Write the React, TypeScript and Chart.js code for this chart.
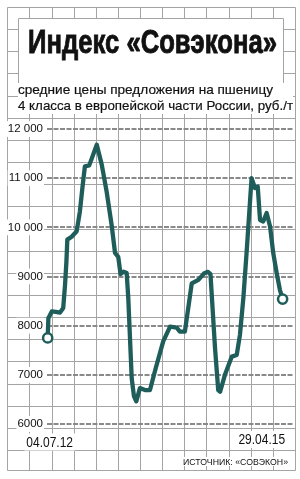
import React, { useEffect, useLayoutEffect, useRef } from 'react';
import { Chart, registerables } from 'chart.js';

Chart.register(...registerables);

// Days since 04.07.2012 for each traced point
const days = [
  0, 3, 18, 36, 54, 68, 76, 82, 86, 105,
  127, 141, 152, 163, 182, 215, 237, 258, 280, 295,
  309, 319, 332, 346, 353, 368, 378, 388, 404, 426,
  448, 474, 506, 536, 565, 579, 601, 631, 660, 684,
  702, 713, 733, 747, 755, 776, 806, 828, 842, 857,
  871, 893, 908, 920, 930, 944, 959, 974, 988, 1003,
  1017, 1029,
];

// Price, rub./t
const prices = [
  7750, 8150, 8290, 8280, 8265, 8360, 8830, 9300, 9750, 9810,
  9920, 10320, 10800, 11240, 11260, 11680, 11270, 10730, 10050, 9480,
  9400, 9050, 9100, 9070, 8560, 6930, 6560, 6460, 6730, 6690,
  6690, 7150, 7680, 7980, 7960, 7880, 7880, 8860, 8930, 9060,
  9095, 9050, 7540, 6690, 6655, 6995, 7370, 7405, 7810, 8560,
  9475, 11000, 10800, 10830, 10150, 10120, 10290, 10015, 9475, 9070,
  8730, 8540,
];

const yTickValues = [6000, 7000, 8000, 9000, 10000, 11000, 12000];
const yTickLabels = ['6000', '7000', '8000', '9000', '10 000', '11 000', '12 000'];
const xTickDays = [0, 1029];
const xTickLabels = ['04.07.12', '29.04.15'];

const TITLE = 'Индекс «Совэкона»';
const SUBTITLE_1 = 'средние цены предложения на пшеницу';
const SUBTITLE_2 = '4 класса в европейской части России, руб./т';
const SOURCE = 'ИСТОЧНИК: «СОВЭКОН»';

const SANS = "'Liberation Sans', Arial, sans-serif";
const LINE = '#1f5d5a';
const PAPER = '#a4a4a4';

const W = 300;
const H = 479;

type FitProps = {
  text: string;
  left: number;
  baseline: number;
  width: number;
  size: number;
  weight?: number | string;
  bg?: string;
  stroke?: number;
};

function FitText({ text, left, baseline, width, size, weight = 400, bg, stroke = 0 }: FitProps) {
  const ref = useRef<HTMLSpanElement>(null);
  useLayoutEffect(() => {
    const el = ref.current;
    if (!el) return;
    el.style.transform = 'none';
    const w = el.getBoundingClientRect().width;
    if (w > 0) el.style.transform = `scaleX(${width / w})`;
  }, [text, width, size]);
  return (
    <span
      ref={ref}
      style={{
        position: 'absolute',
        left,
        top: baseline - size * 0.8465,
        fontSize: size,
        lineHeight: `${size}px`,
        fontFamily: SANS,
        fontWeight: weight as any,
        color: '#111',
        whiteSpace: 'nowrap',
        transformOrigin: '0 0',
        background: bg,
        WebkitTextStroke: stroke ? `${stroke}px #111` : undefined,
      }}
    >
      {text}
    </span>
  );
}

const backgroundPlugin = {
  id: 'paper',
  beforeDraw(chart: any) {
    const ctx = chart.ctx as CanvasRenderingContext2D;
    ctx.save();
    ctx.fillStyle = '#fff';
    ctx.fillRect(0, 0, W, H);
    ctx.strokeStyle = PAPER;
    ctx.lineWidth = 1;
    const x0 = 7.3, y0 = 7, sx = 22.13, sy = 22.15, bottom = 470.5;
    const right = Math.round(x0 + 13 * sx) + 0.5;
    ctx.beginPath();
    for (let k = 0; k <= 13; k++) {
      const x = Math.round(x0 + k * sx) + 0.5;
      ctx.moveTo(x, Math.round(y0) + 0.5);
      ctx.lineTo(x, bottom);
    }
    for (let k = 0; k <= 20; k++) {
      const y = Math.round(y0 + k * sy) + 0.5;
      ctx.moveTo(Math.round(x0) + 0.5, y);
      ctx.lineTo(right, y);
    }
    ctx.moveTo(Math.round(x0) + 0.5, bottom);
    ctx.lineTo(right, bottom);
    ctx.stroke();

    // title box
    ctx.fillStyle = '#fff';
    ctx.fillRect(18, 18, 266, 66);
    ctx.beginPath();
    ctx.moveTo(18.5, 83);
    ctx.lineTo(18.5, 18.5);
    ctx.lineTo(283.5, 18.5);
    ctx.lineTo(283.5, 83);
    ctx.stroke();
    // subtitle background
    ctx.fillRect(18, 83, 275, 31);
    ctx.restore();
  },
};

const xLabelPlugin = {
  id: 'xlabels',
  afterDraw(chart: any) {
    const ctx = chart.ctx as CanvasRenderingContext2D;
    const xs = chart.scales.x;
    const squeeze = 0.8;
    ctx.save();
    ctx.font = `15px ${SANS}`;
    ctx.textBaseline = 'alphabetic';
    ctx.textAlign = 'left';
    xTickDays.forEach((d, i) => {
      const px = xs.getPixelForValue(d);
      const label = xTickLabels[i];
      const w = ctx.measureText(label).width * squeeze;
      const first = i === 0;
      const base = first ? 446.5 : 444;
      const left = first ? px + 2 - w / 2 : px + 2.5 - w;
      ctx.fillStyle = '#fff';
      ctx.fillRect(left - 2, base - 13, w + 4, 17);
      ctx.fillStyle = '#111';
      ctx.save();
      ctx.translate(left, base);
      ctx.scale(squeeze, 1);
      ctx.fillText(label, 0, 0);
      ctx.restore();
    });
    ctx.restore();
  },
};

export default function App() {
  const canvasRef = useRef<HTMLCanvasElement>(null);

  useEffect(() => {
    const canvas = canvasRef.current;
    if (!canvas) return;
    const last = days.length - 1;
    const chart = new Chart(canvas, {
      type: 'line',
      data: {
        datasets: [
          {
            data: days.map((d, i) => ({ x: d, y: prices[i] })),
            borderColor: LINE,
            borderWidth: 4.3,
            borderJoinStyle: 'round',
            borderCapStyle: 'round',
            tension: 0,
            pointRadius: (c: any) => (c.dataIndex === 0 || c.dataIndex === last ? 4.6 : 0),
            pointHoverRadius: 0,
            pointBackgroundColor: '#fff',
            pointBorderColor: LINE,
            pointBorderWidth: 2.5,
            clip: false as any,
          } as any,
        ],
      },
      options: {
        responsive: false,
        animation: false,
        events: [],
        layout: { padding: { left: 0, right: 7, top: 129, bottom: 55 } },
        plugins: {
          legend: { display: false },
          tooltip: { enabled: false },
        },
        scales: {
          x: {
            type: 'linear',
            min: -3,
            max: 1074,
            display: false,
          },
          y: {
            type: 'linear',
            min: 6000,
            max: 12000,
            afterBuildTicks: (s: any) => {
              s.ticks = yTickValues.map((v) => ({ value: v }));
            },
            afterFit: (s: any) => {
              s.width = 47;
            },
            ticks: {
              callback: (v: any) => yTickLabels[yTickValues.indexOf(Number(v))],
              font: { family: SANS, size: 11.5 },
              color: '#111',
              padding: 4,
              showLabelBackdrop: true,
              backdropColor: '#fff',
              backdropPadding: 1,
            } as any,
            grid: { color: '#8a8a8a', lineWidth: 2, drawTicks: false },
            border: { display: false, dash: [5, 1.5] },
          },
        },
      },
      plugins: [backgroundPlugin, xLabelPlugin],
    });
    return () => chart.destroy();
  }, []);

  return (
    <div style={{ position: 'absolute', left: 0, top: 0, width: W, height: H, overflow: 'hidden' }}>
      <canvas ref={canvasRef} width={W} height={H} style={{ display: 'block', width: W, height: H }} />
      <FitText text={TITLE} left={28} baseline={53} width={249} size={33} weight={700} stroke={0.9} />
      <FitText text={SUBTITLE_1} left={18} baseline={94.3} width={255} size={13.5} stroke={0.2} />
      <FitText text={SUBTITLE_2} left={18} baseline={110} width={275} size={13.5} stroke={0.2} />
      <FitText text={SOURCE} left={183} baseline={465} width={105} size={9.5} bg="#fff" />
    </div>
  );
}
